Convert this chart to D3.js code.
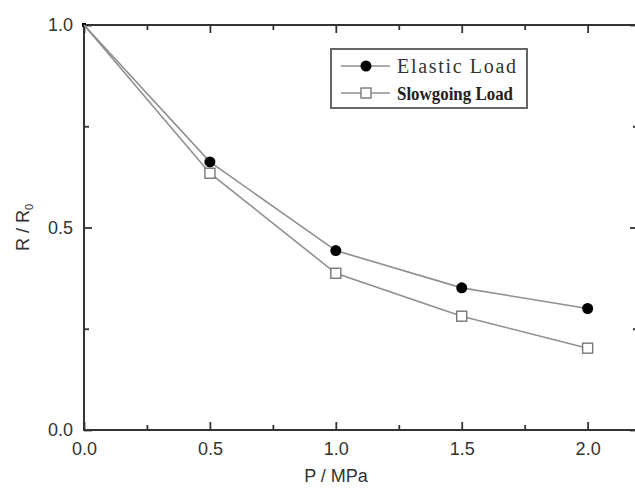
<!DOCTYPE html>
<html>
<head>
<meta charset="utf-8">
<script src="https://cdn.jsdelivr.net/npm/d3@7"></script>
<style>
html,body{margin:0;padding:0;background:#fff;}
svg{display:block;}
</style>
</head>
<body>
<svg id="chart" width="635" height="494"></svg>
<script>
// ---- data ----
const pressure = [0, 0.5, 1.0, 1.5, 2.0];
const elastic = [1.0, 0.662, 0.443, 0.351, 0.300];
const slowgoing = [1.0, 0.634, 0.387, 0.281, 0.202];
const seriesNames = ["Elastic Load", "Slowgoing Load"];
const xMajorTicks = [0, 0.5, 1.0, 1.5, 2.0];
const xMinorTicks = [0.25, 0.75, 1.25, 1.75];
const yMajorTicks = [0, 0.5, 1.0];
const yMinorTicks = [0.25, 0.75];

const svg = d3.select("#chart");
const L = 84, R = 638, T = 25, B = 430;
const x = d3.scaleLinear().domain([0, 2.2]).range([L, R]);
const y = d3.scaleLinear().domain([0, 1]).range([B, T]);
const fmt = d3.format(".1f");
const axisColor = "#333";
const fontSans = "'Liberation Sans', Arial, sans-serif";

function styleAxis(g, showText) {
  g.select(".domain").remove();
  g.selectAll(".tick line").attr("stroke", axisColor).attr("stroke-width", 1.8);
  g.selectAll(".tick text").attr("fill", "#333").style("font-family", fontSans).style("font-size", "18px");
  if (!showText) g.selectAll(".tick text").remove();
}

// bottom
svg.append("g").attr("transform", `translate(0,${B})`)
  .call(d3.axisBottom(x).tickValues(xMajorTicks).tickSize(-8).tickPadding(12).tickFormat(fmt))
  .call(g => styleAxis(g, true));
svg.append("g").attr("transform", `translate(0,${B})`)
  .call(d3.axisBottom(x).tickValues(xMinorTicks).tickSize(-5).tickFormat(""))
  .call(g => styleAxis(g, false));
// top
svg.append("g").attr("transform", `translate(0,${T})`)
  .call(d3.axisTop(x).tickValues(xMajorTicks).tickSize(-8).tickFormat(""))
  .call(g => styleAxis(g, false));
svg.append("g").attr("transform", `translate(0,${T})`)
  .call(d3.axisTop(x).tickValues(xMinorTicks).tickSize(-5).tickFormat(""))
  .call(g => styleAxis(g, false));
// left
svg.append("g").attr("transform", `translate(${L},0)`)
  .call(d3.axisLeft(y).tickValues(yMajorTicks).tickSize(-8).tickPadding(11).tickFormat(fmt))
  .call(g => styleAxis(g, true));
svg.append("g").attr("transform", `translate(${L},0)`)
  .call(d3.axisLeft(y).tickValues(yMinorTicks).tickSize(-5).tickFormat(""))
  .call(g => styleAxis(g, false));
// right
svg.append("g").attr("transform", `translate(${R},0)`)
  .call(d3.axisRight(y).tickValues(yMajorTicks).tickSize(-8).tickFormat(""))
  .call(g => styleAxis(g, false));
svg.append("g").attr("transform", `translate(${R},0)`)
  .call(d3.axisRight(y).tickValues(yMinorTicks).tickSize(-5).tickFormat(""))
  .call(g => styleAxis(g, false));

// frame
svg.append("rect").attr("x", L).attr("y", T).attr("width", R - L).attr("height", B - T)
  .attr("fill", "none").attr("stroke", axisColor).attr("stroke-width", 2);
svg.append("rect").attr("x", L - 2).attr("y", T - 2).attr("width", 4).attr("height", 4).attr("fill", "#000");

// lines
const lineGen = d3.line().x((d, i) => x(pressure[i])).y(d => y(d));
const lineColor = "#8f8f8f";
[elastic, slowgoing].forEach(s => {
  svg.append("path").datum(s).attr("d", lineGen)
    .attr("fill", "none").attr("stroke", lineColor).attr("stroke-width", 1.6);
});

// markers
svg.append("g").selectAll("circle").data(elastic).join("circle")
  .attr("cx", (d, i) => x(pressure[i])).attr("cy", d => y(d)).attr("r", 5.5).attr("fill", "#000")
  .filter((d, i) => i === 0).remove();
const sq = 10;
svg.append("g").selectAll("rect").data(slowgoing).join("rect")
  .attr("x", (d, i) => x(pressure[i]) - sq / 2).attr("y", d => y(d) - sq / 2)
  .attr("width", sq).attr("height", sq).attr("fill", "#fff").attr("stroke", "#777").attr("stroke-width", 1.4)
  .filter((d, i) => i === 0).remove();

// legend
const lg = svg.append("g");
lg.append("rect").attr("x", 331).attr("y", 49).attr("width", 196).attr("height", 59)
  .attr("fill", "#fff").attr("stroke", "#666").attr("stroke-width", 2);
const rows = [66, 93];
rows.forEach((ry, i) => {
  lg.append("line").attr("x1", 341).attr("x2", 390).attr("y1", ry).attr("y2", ry)
    .attr("stroke", lineColor).attr("stroke-width", 1.6);
  if (i === 0) {
    lg.append("circle").attr("cx", 366).attr("cy", ry).attr("r", 5.5).attr("fill", "#000");
  } else {
    lg.append("rect").attr("x", 366 - sq / 2).attr("y", ry - sq / 2).attr("width", sq).attr("height", sq)
      .attr("fill", "#fff").attr("stroke", "#777").attr("stroke-width", 1.4);
  }
});
lg.append("text").attr("x", 397).attr("y", rows[0] + 7).text(seriesNames[0])
  .style("font-family", "'Liberation Serif', 'Times New Roman', serif").style("font-size", "20px")
  .attr("fill", "#333").attr("textLength", 119).attr("lengthAdjust", "spacing");
lg.append("text").attr("x", 397).attr("y", rows[1] + 7).text(seriesNames[1])
  .style("font-family", "'Liberation Serif', 'Times New Roman', serif").style("font-size", "19px")
  .style("font-weight", "bold").attr("fill", "#222").attr("textLength", 116).attr("lengthAdjust", "spacingAndGlyphs");

// axis titles
svg.append("text").attr("x", (L + 588) / 2).attr("y", 482).attr("text-anchor", "middle")
  .style("font-family", fontSans).style("font-size", "18px").attr("fill", "#333").text("P / MPa");
const yt = svg.append("text").attr("transform", `translate(29,${y(0.5)}) rotate(-90)`)
  .attr("text-anchor", "middle").style("font-family", fontSans).style("font-size", "18px").attr("fill", "#333");
yt.append("tspan").text("R / R");
yt.append("tspan").attr("dy", 4).style("font-size", "11px").text("0");
</script>
</body>
</html>
